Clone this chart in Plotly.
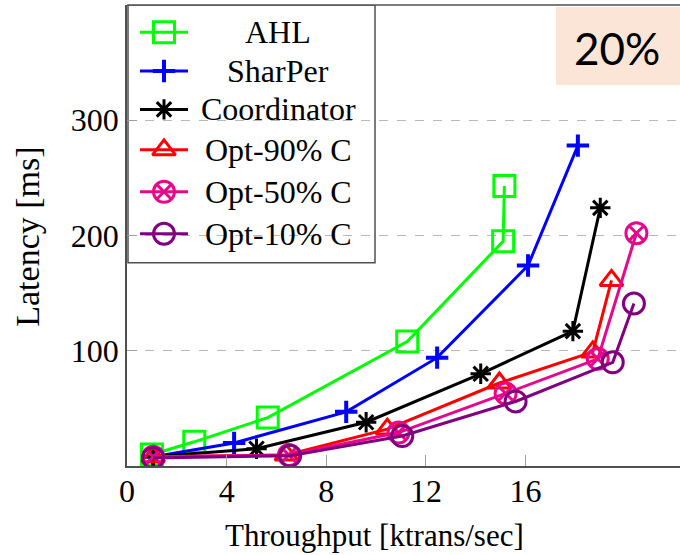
import plotly.graph_objects as go

# Throughput (ktrans/sec) vs latency (ms) per protocol, 20% cross-shard workload
ahl_x = [1.0, 2.7, 5.65, 11.25, 15.1, 15.15]
ahl_y = [10, 21, 42, 108, 195, 243]
sharper_x = [1.05, 4.3, 8.8, 12.45, 16.1, 18.1]
sharper_y = [8, 20, 47, 94, 174, 278]
coord_x = [1.05, 5.2, 9.6, 14.2, 17.9, 19.0]
coord_y = [8, 15, 38, 80, 117, 224]
opt90_x = [1.05, 6.4, 10.45, 14.95, 18.7, 19.45]
opt90_y = [8, 9.5, 32, 72, 99, 161]
opt50_x = [1.05, 6.5, 10.9, 15.2, 18.9, 20.45]
opt50_y = [8, 9.5, 29, 63, 93, 202]
opt10_x = [1.05, 6.55, 11.05, 15.6, 19.5, 20.35]
opt10_y = [7, 9, 26, 56, 90, 141]

x_ticks = [0, 4, 8, 12, 16]
y_ticks = [100, 200, 300]

series = [
    ("AHL", ahl_x, ahl_y, "#00ff00", "square-open", 21, 3),
    ("SharPer", sharper_x, sharper_y, "#0000ff", "cross-thin-open", 16, 4),
    ("Coordinator", coord_x, coord_y, "#000000", "asterisk-open", 17, 3),
    ("Opt-90% C", opt90_x, opt90_y, "#ff0000", "triangle-up-open", 20, 3),
    ("Opt-50% C", opt50_x, opt50_y, "#e6088c", "circle-x-open", 21, 3),
    ("Opt-10% C", opt10_x, opt10_y, "#800080", "circle-open", 21, 3),
]

W, H = 680, 555
L, R, T, B = 127, 680, 5, 466.5
SERIF = "Liberation Serif"
FRAME = "#505050"


def px_x(p):
    """Pixel column -> paper x."""
    return (p - L) / (R - L)


def px_y(p):
    """Pixel row -> paper y."""
    return (B - p) / (B - T)


fig = go.Figure()

for name, xs, ys, col, sym, sz, lw in series:
    fig.add_trace(go.Scatter(
        x=xs, y=ys, mode="lines+markers", name=name, showlegend=False,
        line=dict(color=col, width=3),
        marker=dict(symbol=sym, size=sz, color=col, line=dict(color=col, width=lw)),
    ))

# hand-drawn legend on a pixel-scaled overlay axis
leg_rows = [32.3, 71, 109.5, 150, 192, 234]
for (name, xs, ys, col, sym, sz, lw), ry in zip(series, leg_rows):
    fig.add_trace(go.Scatter(
        x=[140, 188], y=[ry, ry], mode="lines", xaxis="x2", yaxis="y2",
        showlegend=False, hoverinfo="skip", line=dict(color=col, width=3),
    ))
    fig.add_trace(go.Scatter(
        x=[164], y=[ry], mode="markers", xaxis="x2", yaxis="y2",
        showlegend=False, hoverinfo="skip",
        marker=dict(symbol=sym, size=sz, color=col, line=dict(color=col, width=lw)),
    ))
    fig.add_annotation(x=278, y=ry, xref="x2", yref="y2", text=name, showarrow=False,
                       xanchor="center", yanchor="middle",
                       font=dict(family=SERIF, size=32, color="black"))

shapes = [
    # legend box
    dict(type="rect", xref="x2", yref="y2", x0=128, x1=375, y0=5, y1=263,
         line=dict(color=FRAME, width=1.5), fillcolor="white", layer="below"),
    # top frame line
    dict(type="line", xref="paper", yref="paper", x0=0, x1=1, y0=1, y1=1,
         line=dict(color=FRAME, width=1.5)),
    # label box
    dict(type="rect", xref="x2", yref="y2", x0=556, x1=681, y0=7, y1=85,
         line=dict(width=0), fillcolor="#fbe5d6", layer="below"),
]

fig.add_annotation(x=617, y=48, xref="x2", yref="y2", text="20%", showarrow=False,
                   xanchor="center", yanchor="middle",
                   font=dict(family="Lato", size=44, color="black"))

# axis titles
fig.add_annotation(x=px_x(374), y=px_y(536), xref="paper", yref="paper",
                   text="Throughput [ktrans/sec]",
                   showarrow=False, xanchor="center", yanchor="middle",
                   font=dict(family=SERIF, size=31, color="black"))
fig.add_annotation(x=px_x(28), y=px_y(237), xref="paper", yref="paper",
                   text="Latency [ms]",
                   showarrow=False, xanchor="center", yanchor="middle", textangle=-90,
                   font=dict(family=SERIF, size=34, color="black"))

fig.update_layout(
    width=W, height=H,
    margin=dict(l=L, r=W - R, t=T, b=H - B),
    paper_bgcolor="white", plot_bgcolor="white",
    shapes=shapes,
    xaxis=dict(range=[0, 22.2], tickvals=x_ticks, ticks="inside", ticklen=11,
               tickcolor="#a0a0a0", tickwidth=1.2, showgrid=False, zeroline=False,
               showline=True, linecolor=FRAME, linewidth=1.5, ticklabelstandoff=-4,
               tickfont=dict(family=SERIF, size=32, color="black")),
    yaxis=dict(range=[0, 400], tickvals=y_ticks, ticks="inside", ticklen=10,
               tickcolor="#a0a0a0", tickwidth=1.2, showgrid=True,
               gridcolor="#b8b8b8", griddash="dash", gridwidth=1, zeroline=False,
               showline=True, linecolor=FRAME, linewidth=1.5,
               tickfont=dict(family=SERIF, size=32, color="black")),
    xaxis2=dict(range=[L, R], overlaying="x", visible=False, fixedrange=True),
    yaxis2=dict(range=[B, T], overlaying="y", visible=False, fixedrange=True),
    showlegend=False,
)

fig.write_html("out.html")
